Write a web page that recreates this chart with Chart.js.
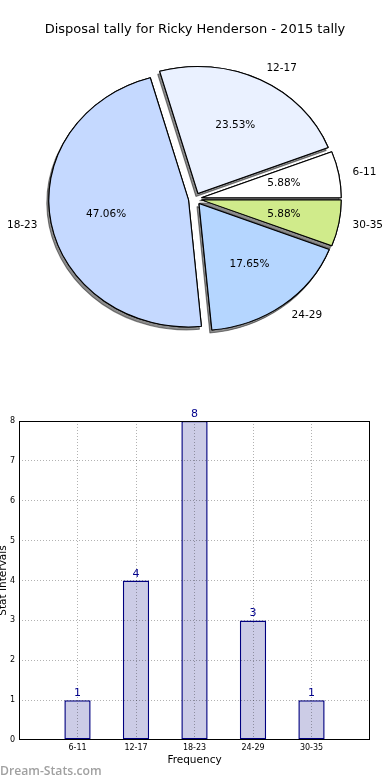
<!DOCTYPE html>
<html lang="en">
<head>
<meta charset="UTF-8">
<title>Disposal tally for Ricky Henderson - 2015 tally</title>
<script src="https://cdn.jsdelivr.net/npm/chart.js"></script>
<style>
    body {
        margin: 0;
        background: #fff;
        width: 390px;
        height: 780px;
        position: relative;
        overflow: hidden;
        font-family: "DejaVu Sans", sans-serif;
    }
    #pie-box { position: absolute; left: 0; top: 0; width: 390px; height: 370px; }
    #bar-box { position: absolute; left: 0; top: 370px; width: 390px; height: 410px; }
    #watermark {
        position: absolute; left: 0; top: 762px;
        font-family: "Open Sans", sans-serif; font-size: 12.2px; font-weight: 600; color: #a0a0a0;
    }
</style>
</head>
<body>
<div id="pie-box"><canvas id="pie-chart"></canvas></div>
<div id="bar-box"><canvas id="bar-chart"></canvas></div>
<div id="watermark">Dream-Stats.com</div>
<script>
const categories = ['6-11', '12-17', '18-23', '24-29', '30-35'];
const counts = [1, 4, 8, 3, 1];
const pieColors = ['#ffffff', '#eaf1ff', '#c5d9ff', '#b5d6ff', '#d0eb8b'];
const yTicks = [0, 1, 2, 3, 4, 5, 6, 7, 8];

const total = counts.reduce((a, b) => a + b, 0);
// matplotlib goes counter-clockwise from 3 o'clock, chart.js clockwise -> reverse
const pieIdx = categories.map((c, i) => i).reverse();
const STRETCH = 1.1;   // axes not equal, pie is a bit wide
const EXPLODE = 6;

Chart.defaults.font.family = '"DejaVu Sans", sans-serif';
Chart.defaults.color = '#000';

function pieCenter(chart) {
    const a = chart.chartArea;
    return { cx: (a.left + a.right) / 2, cy: (a.top + a.bottom) / 2 };
}

const mplPie = {
    id: 'mplPie',
    afterDatasetUpdate(chart) {
        const { cx, cy } = pieCenter(chart);
        chart.getDatasetMeta(0).data.forEach(arc => {
            const mid = (arc.startAngle + arc.endAngle) / 2;
            arc.x = cx + Math.cos(mid) * EXPLODE;
            arc.y = cy + Math.sin(mid) * EXPLODE;
        });
    },
    beforeDatasetsDraw(chart) {
        const ctx = chart.ctx;
        const { cx, cy } = pieCenter(chart);
        ctx.save();
        ctx.translate(cx, cy);
        ctx.scale(STRETCH, 1);
        ctx.translate(-cx, -cy);
        // shadow pass
        ctx.save();
        ctx.shadowColor = 'rgba(0,0,0,0.45)';
        ctx.shadowOffsetX = -2;
        ctx.shadowOffsetY = 3;
        chart.getDatasetMeta(0).data.forEach(arc => arc.draw(ctx));
        ctx.restore();
    },
    afterDatasetsDraw(chart) {
        const ctx = chart.ctx;
        ctx.restore();
        const { cx, cy } = pieCenter(chart);
        ctx.save();
        ctx.font = '10.5px "DejaVu Sans"';
        ctx.fillStyle = '#000';
        ctx.textBaseline = 'middle';
        chart.getDatasetMeta(0).data.forEach((arc, i) => {
            const k = pieIdx[i];
            const mid = (arc.startAngle + arc.endAngle) / 2;
            const c = Math.cos(mid), s = Math.sin(mid);
            const R = arc.outerRadius;
            const pr = 0.6 * R + EXPLODE;
            const lr = 1.1 * R + EXPLODE;
            ctx.textAlign = 'center';
            ctx.fillText((counts[k] / total * 100).toFixed(2) + '%', cx + STRETCH * pr * c, cy + pr * s);
            ctx.textAlign = c >= 0 ? 'left' : 'right';
            ctx.fillText(categories[k], cx + STRETCH * lr * c, cy + lr * s);
        });
        ctx.restore();
    }
};

new Chart(document.getElementById('pie-chart'), {
    type: 'pie',
    data: {
        labels: pieIdx.map(i => categories[i]),
        datasets: [{
            data: pieIdx.map(i => counts[i]),
            backgroundColor: pieIdx.map(i => pieColors[i]),
            borderColor: '#000',
            borderWidth: 1,
            rotation: 90,
            radius: 127
        }]
    },
    options: {
        responsive: true,
        maintainAspectRatio: false,
        animation: false,
        events: [],
        layout: { padding: { top: 0, bottom: 18, left: 0, right: 0 } },
        plugins: {
            legend: { display: false },
            tooltip: { enabled: false },
            title: {
                display: true,
                text: 'Disposal tally for Ricky Henderson - 2015 tally',
                font: { size: 13, weight: 'normal' },
                color: '#000',
                padding: { top: 22, bottom: 8 }
            }
        }
    },
    plugins: [mplPie]
});

const barExtras = {
    id: 'barExtras',
    afterDraw(chart) {
        const ctx = chart.ctx;
        const a = chart.chartArea;
        ctx.save();
        ctx.strokeStyle = '#000';
        ctx.lineWidth = 1;
        ctx.strokeRect(Math.round(a.left) + 0.5, Math.round(a.top) + 0.5,
            Math.round(a.right - a.left) - 1, Math.round(a.bottom - a.top) - 1);
        ctx.font = '11px "DejaVu Sans"';
        ctx.fillStyle = '#00008b';
        ctx.textAlign = 'center';
        ctx.textBaseline = 'alphabetic';
        chart.getDatasetMeta(0).data.forEach((bar, i) => {
            ctx.fillText(String(counts[i]), bar.x, bar.y - 4);
        });
        ctx.restore();
    }
};

const gridColor = (lo, hi) => ctx =>
    (ctx.tick && ctx.tick.value > lo && ctx.tick.value < hi) ? 'rgba(0,0,0,0.3)' : 'rgba(0,0,0,0)';

new Chart(document.getElementById('bar-chart'), {
    type: 'bar',
    data: {
        datasets: [{
            data: counts.map((v, i) => ({ x: i, y: v })),
            backgroundColor: '#ccccE6',
            borderColor: '#000080',
            borderWidth: 1.5,
            borderSkipped: false,
            barPercentage: 0.45,
            categoryPercentage: 1
        }]
    },
    options: {
        responsive: true,
        maintainAspectRatio: false,
        animation: false,
        events: [],
        layout: { padding: { top: 51, right: 20, left: 0, bottom: 0 } },
        plugins: { legend: { display: false }, tooltip: { enabled: false } },
        scales: {
            x: {
                type: 'linear',
                min: -1,
                max: categories.length,
                offset: false,
                ticks: {
                    stepSize: 1,
                    autoSkip: false,
                    maxRotation: 0,
                    padding: 3,
                    font: { size: 8 },
                    callback: v => categories[v] ?? ''
                },
                grid: { offset: false, drawTicks: false, z: 1, color: gridColor(-1, categories.length) },
                border: { display: false, dash: [1, 2] },
                title: {
                    display: true,
                    text: 'Frequency',
                    font: { size: 10.5 },
                    padding: { top: 0, bottom: 13 }
                },
                afterFit: s => { s.height = 40; }
            },
            y: {
                min: yTicks[0],
                max: yTicks[yTicks.length - 1],
                ticks: { stepSize: 1, padding: 4, font: { size: 8 } },
                grid: { drawTicks: false, z: 1, color: gridColor(yTicks[0], yTicks[yTicks.length - 1]) },
                border: { display: false, dash: [1, 2] },
                title: {
                    display: true,
                    text: 'Stat Intervals',
                    font: { size: 10.5, lineHeight: 0.66 },
                    padding: 0
                },
                afterFit: s => { s.width = 19; }
            }
        }
    },
    plugins: [barExtras]
});
</script>
</body>
</html>
